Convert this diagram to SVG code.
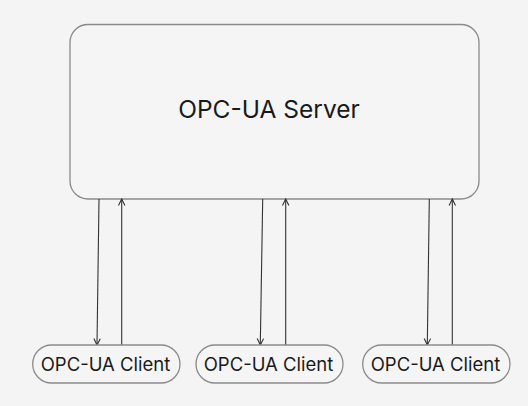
<svg xmlns="http://www.w3.org/2000/svg" width="528" height="406" viewBox="0 0 528 406">
  <style>
    .box { fill: #f5f5f5; stroke: #8a8a8a; stroke-width: 1.3; }
    .label { font-family: Inter, "Liberation Sans", sans-serif; fill: #1a1a1a; text-anchor: middle; }
    .wire { stroke: #333; stroke-width: 1.1; fill: none; }
  </style>
  <defs>
    <marker id="chev" viewBox="0 0 10 10" refX="9" refY="5" markerWidth="8" markerHeight="8" markerUnits="userSpaceOnUse" orient="auto">
      <path d="M1,1 L9,5 L1,9" fill="none" stroke="#333" stroke-width="1.4"/>
    </marker>
  </defs>
  <rect width="528" height="406" fill="#f4f4f4"/>

  <g id="server">
    <rect class="box" x="70" y="24.5" width="409" height="174.5" rx="18"/>
    <text class="label" x="269" y="118" font-size="24.5">OPC-UA Server</text>
  </g>

  <g id="connectors">
    <line class="wire" x1="99" y1="199" x2="97" y2="345" marker-end="url(#chev)"/>
    <line class="wire" x1="121.7" y1="345" x2="121.7" y2="199" marker-end="url(#chev)"/>
    <line class="wire" x1="262.7" y1="199" x2="260.3" y2="345" marker-end="url(#chev)"/>
    <line class="wire" x1="285.7" y1="345" x2="285.7" y2="199" marker-end="url(#chev)"/>
    <line class="wire" x1="429.3" y1="199" x2="427.3" y2="345" marker-end="url(#chev)"/>
    <line class="wire" x1="452.3" y1="345" x2="452.3" y2="199" marker-end="url(#chev)"/>
  </g>

  <g id="client1">
    <rect class="box" x="32.7" y="345" width="147.3" height="38" rx="19"/>
    <text class="label" x="105.5" y="371" font-size="18.5">OPC-UA Client</text>
  </g>
  <g id="client2">
    <rect class="box" x="196" y="345" width="147" height="38" rx="19"/>
    <text class="label" x="268.5" y="371" font-size="18.5">OPC-UA Client</text>
  </g>
  <g id="client3">
    <rect class="box" x="362.7" y="345" width="147.3" height="38" rx="19"/>
    <text class="label" x="435.5" y="371" font-size="18.5">OPC-UA Client</text>
  </g>
</svg>
